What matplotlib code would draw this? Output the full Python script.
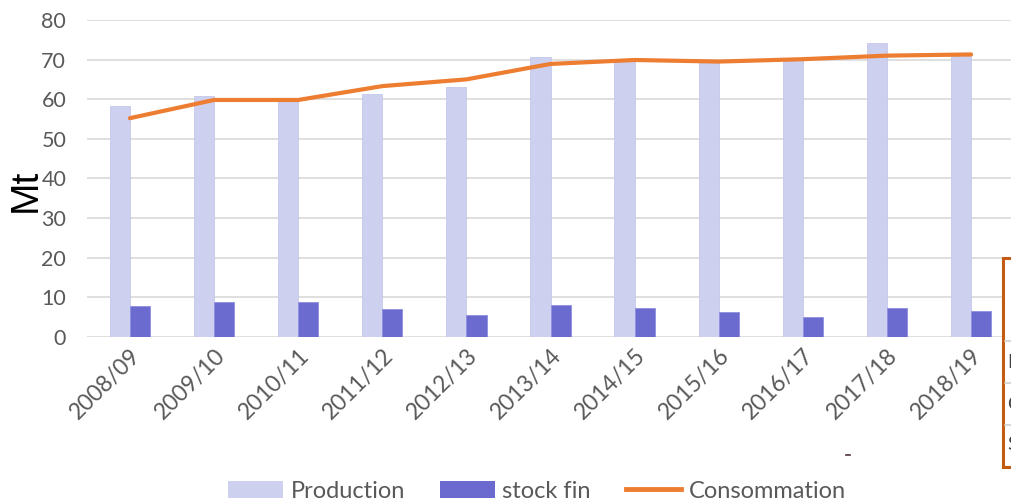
import matplotlib.pyplot as plt
import numpy as np
from matplotlib.patches import Rectangle, Patch
from matplotlib.lines import Line2D

plt.rcParams['font.family'] = ['Lato', 'DejaVu Sans']

# data (Mt)
campagnes = ['2008/09', '2009/10', '2010/11', '2011/12', '2012/13', '2013/14',
             '2014/15', '2015/16', '2016/17', '2017/18', '2018/19']
production = [58.3, 60.7, 59.5, 61.2, 63.2, 70.6, 69.9, 69.4, 70.0, 74.1, 70.8]
stock_fin = [7.8, 8.7, 8.7, 6.9, 5.6, 8.0, 7.2, 6.2, 5.1, 7.2, 6.6]
consommation = [55.2, 59.8, 59.8, 63.3, 65.0, 68.9, 69.9, 69.5, 70.1, 71.0, 71.3]

c_prod = '#CDD0EE'
c_stock = '#6B6BCF'
c_conso = '#ED7D31'
c_text = '#595959'

fig = plt.figure(figsize=(10.11, 5.01), dpi=100)
ax = fig.add_axes([87 / 1011, 1 - 336.7 / 501, 927 / 1011, 316.7 / 501])

x = np.arange(len(campagnes))
w = 0.24
ax.bar(x - w / 2, production, w, color=c_prod, edgecolor='#C4C7EA', linewidth=0.6, zorder=2)
ax.bar(x + w / 2, stock_fin, w, color=c_stock, edgecolor='#8E8EE0', linewidth=0.6, zorder=2)
ax.plot(x, consommation, color=c_conso, linewidth=3, solid_capstyle='round', zorder=3)

ax.set_xlim(-0.51, len(campagnes) - 0.49)
ax.set_ylim(0, 80)
ax.set_yticks(range(0, 81, 10))
ax.grid(axis='y', color='#D9D9D9', linewidth=1.2, zorder=0)
ax.set_axisbelow(True)
for s in ax.spines.values():
    s.set_visible(False)
ax.tick_params(axis='y', length=0, pad=15, labelsize=15.5, labelcolor=c_text)
ax.tick_params(axis='x', length=0, pad=6, labelsize=16.5, labelcolor=c_text)
ax.set_xticks(x)
ax.set_xticklabels(campagnes, rotation=45, ha='right', rotation_mode='anchor')

fig.text(26 / 1011, 1 - 190 / 501, 'Mt', rotation=90, ha='center', va='center',
         fontsize=28, color='black', family=['Liberation Sans'])

handles = [Patch(facecolor=c_prod, edgecolor='none'),
           Patch(facecolor=c_stock, edgecolor='none'),
           Line2D([], [], color=c_conso, linewidth=3.5)]
fig.legend(handles, ['Production', 'stock fin', 'Consommation'], loc='center',
           bbox_to_anchor=(537 / 1011, 10 / 501), ncol=3, frameon=False,
           fontsize=17, labelcolor=c_text, handlelength=2.3, handletextpad=0.33,
           columnspacing=1.5)

# cropped table box at the right edge
fig.patches.append(Rectangle((1003 / 1011, 1 - 467 / 501), 0.05, 209 / 501,
                             transform=fig.transFigure, facecolor='white',
                             edgecolor='#C55A11', linewidth=2.2, zorder=5))
for yy in [341, 383, 425]:
    fig.add_artist(Line2D([1005 / 1011, 1.0], [1 - yy / 501] * 2,
                          transform=fig.transFigure, color='#D0D0D0', linewidth=1.2, zorder=6))
for yy, ch in [(362, 'P'), (404, 'C'), (444, 'S')]:
    fig.text(1007 / 1011, 1 - yy / 501, ch, ha='left', va='center', fontsize=14,
             color='#404040', zorder=7)

# small stray mark under the chart
fig.add_artist(Line2D([846 / 1011, 850 / 1011], [1 - 455 / 501] * 2,
                      transform=fig.transFigure, color='#503040', linewidth=1.2))

fig.savefig('out.png', dpi=100)
